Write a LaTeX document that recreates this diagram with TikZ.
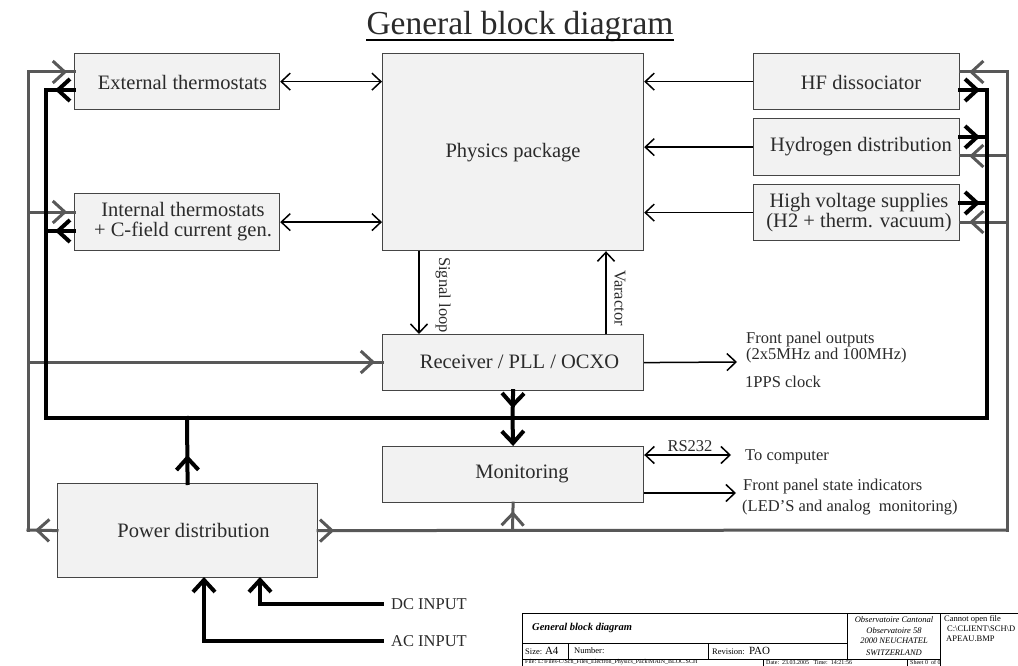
\documentclass[tikz,border=0pt]{standalone}
\usepackage{fontspec}
\setmainfont{Liberation Serif}
\usetikzlibrary{arrows.meta,decorations.markings}
\definecolor{boxfill}{HTML}{F2F2F2}
\definecolor{boxline}{HTML}{454545}
\definecolor{gwire}{HTML}{585858}
\definecolor{txtc}{HTML}{2B2B2B}
\tikzset{
  gbarb/.tip={Straight Barb[length=12pt,width=22pt]},
  bbarb/.tip={Straight Barb[length=12pt,width=22pt]},
  tbarb/.tip={Straight Barb[length=9pt,width=17pt]},
  blockbox/.style={draw=boxline,line width=1.2pt,fill=boxfill,inner sep=0pt,anchor=north west},
  blocktext/.style={inner sep=0pt,text=txtc,font=\fontsize{20.5}{20}\selectfont,align=center},
  sidetext/.style={inner sep=0pt,text=txtc,font=\fontsize{16.5}{18}\selectfont},
  wthin/.style={line width=1.5pt,black},
  wgray/.style={line width=3pt,gwire,line cap=rect},
  wblack/.style={line width=4pt,black,line cap=rect},
  tipat/.style 2 args={postaction={decorate,decoration={markings,mark=at position #1 with {\arrow{#2}}}}},
  tbline/.style={line width=0.9pt,black},
  tbtext/.style={inner sep=0pt,font=\fontsize{8.5}{9}\selectfont},
  tbsmall/.style={inner sep=0pt,anchor=west,font=\fontsize{6}{6}\selectfont}
}
\begin{document}
\begin{tikzpicture}[x=1pt,y=-1pt]
\fill[white] (0,0) rectangle (1018,666);
\useasboundingbox (0,0) rectangle (1018,666);

% title
\node[inner sep=0pt,anchor=base,font=\fontsize{33.5}{38}\selectfont,text=txtc] (title) at (520,35) {General block diagram};
\draw[line width=1.8pt] ([yshift=-5pt]title.base west) -- ([yshift=-5pt]title.base east);

% boxes
\node[blockbox,minimum width=205pt,minimum height=56pt] (ext) at (74,53) {};
\node[blockbox,minimum width=205pt,minimum height=57pt] (int) at (74,193) {};
\node[blockbox,minimum width=261pt,minimum height=197pt] (phys) at (382,53) {};
\node[blockbox,minimum width=206pt,minimum height=56pt] (hf) at (753,53) {};
\node[blockbox,minimum width=206pt,minimum height=57pt] (hyd) at (753,118) {};
\node[blockbox,minimum width=206pt,minimum height=56pt] (hv) at (753,184) {};
\node[blockbox,minimum width=261pt,minimum height=56pt] (rcv) at (382,334) {};
\node[blockbox,minimum width=261pt,minimum height=56pt] (mon) at (382,446) {};
\node[blockbox,minimum width=260pt,minimum height=94pt] (pd) at (57,483) {};

% box texts
\node[blocktext] (extT) at (182.5,82) {External thermostats};
\node[blocktext] (intT) at (183,222) {Internal thermostats\\+ C-field current gen.};
\node[blocktext] (physT) at (513,153) {Physics package};
\node[blocktext] (hfT) at (861,82) {HF dissociator};
\node[blocktext] (hydT) at (861,147) {Hydrogen distribution};
\node[blocktext] (hvT) at (859,213) {High voltage supplies\\(H2 + therm. vacuum)};
\node[blocktext] (rcvT) at (519.5,362) {Receiver / PLL / OCXO};
\node[blocktext] (monT) at (522,474) {Monitoring};
\node[blocktext] (pdT) at (193.5,530) {Power distribution};

% coordinates of the wire networks
\coordinate (gL1) at (28,72);
\coordinate (gL2) at (28,212);
\coordinate (gL3) at (28,362);
\coordinate (gL4) at (28,530);
\coordinate (gR1) at (1007,72);
\coordinate (gR2) at (1007,156);
\coordinate (gR3) at (1007,222);
\coordinate (gR4) at (1007,530);
\coordinate (gM) at (512.5,530);
\coordinate (bL1) at (46,90);
\coordinate (bL2) at (46,231);
\coordinate (bLB) at (46,418);
\coordinate (bRB) at (987,418);
\coordinate (bR1) at (987,90);
\coordinate (bR2) at (987,137);
\coordinate (bR3) at (987,203);
\coordinate (bPD) at (187,418);
\coordinate (bRc) at (512.5,418);

% gray network
\draw[wgray] (gL1) -- (gL4);
\draw[wgray] (gR1) -- (gR4);
\draw[wgray,tipat={-7pt}{gbarb}] (gL1) -- (gL1 -| ext.west);
\draw[wgray,tipat={-7pt}{gbarb}] (gL2) -- (gL2 -| int.west);
\draw[wgray,tipat={-7pt}{gbarb}] (gL3) -- (gL3 -| rcv.west);
\draw[wgray,tipat={-7pt}{gbarb}] (pd.west) -- (gL4);
\draw[wgray,tipat={16pt}{gbarb}] (pd.east) -- (gR4);
\draw[wgray,tipat={-9pt}{gbarb}] (gR1) -- (gR1 -| hf.east);
\draw[wgray,tipat={-9pt}{gbarb}] (gR2) -- (gR2 -| hyd.east);
\draw[wgray,tipat={-9pt}{gbarb}] (gR3) -- (gR3 -| hv.east);
\draw[wgray,tipat={-8pt}{gbarb}] (gM) -- (mon.south);

% black network
\draw[wblack] (bL1) -- (bLB) -- (bRB) -- (bR1);
\draw[wblack,tipat={-9pt}{bbarb}] (bL1 -| ext.west) -- (bL1);
\draw[wblack,tipat={-9pt}{bbarb}] (bL2 -| int.west) -- (bL2);
\draw[wblack,tipat={-7pt}{bbarb}] (bR1 -| hf.east) -- (bR1);
\draw[wblack,tipat={-7pt}{bbarb}] (bR2 -| hyd.east) -- (bR2);
\draw[wblack,tipat={-7pt}{bbarb}] (bR3 -| hv.east) -- (bR3);
\draw[wblack,tipat={28pt}{bbarb}] (pd.north) -- (bPD);
\draw[wblack,tipat={17pt}{bbarb}] (rcv.south) -- (bRc);
\draw[wblack,-{bbarb},line cap=butt] (bRc) -- (mon.north);

% inputs
\node[sidetext,anchor=west] (dcL) at (391,604) {DC INPUT};
\node[sidetext,anchor=west] (acL) at (391,641) {AC INPUT};
\coordinate (dcUp) at (260,577);
\coordinate (acUp) at (204,577);
\draw[wblack,-{bbarb}] ([xshift=-9pt]dcL.west) -| (dcUp);
\draw[wblack,-{bbarb}] ([xshift=-9pt]acL.west) -| (acUp);

% thin connectors
\draw[wthin,{tbarb}-{tbarb}] (ext.east) -- (ext.east -| phys.west);
\draw[wthin,{tbarb}-{tbarb}] (int.east) -- (int.east -| phys.west);
\draw[wthin,-{tbarb}] (hf.west) -- (hf.west -| phys.east);
\draw[wthin,-{tbarb}] (hyd.west) -- (hyd.west -| phys.east);
\draw[wthin,-{tbarb}] (hv.west) -- (hv.west -| phys.east);
\coordinate (slX) at (419,0);
\coordinate (vaX) at (606,0);
\draw[wthin,-{tbarb}] (phys.south -| slX) -- (rcv.north -| slX);
\draw[wthin,-{tbarb}] (rcv.north -| vaX) -- (phys.south -| vaX);
\node[sidetext,rotate=-90] (slT) at (443,295) {Signal loop};
\node[sidetext,rotate=-90] (vaT) at (620,298) {Varactor};

% receiver outputs
\coordinate (fpoE) at (737,362);
\draw[wthin,-{tbarb}] (rcv.east) -- (fpoE);
\node[sidetext,anchor=west] (fpo1) at (746,340) {Front panel outputs};
\node[sidetext,anchor=west] (fpo2) at (746,356) {(2x5MHz and 100MHz)};
\node[sidetext,anchor=west] (pps) at (745,382) {1PPS clock};

% monitoring outputs
\coordinate (rsE) at (731,455);
\coordinate (fpsE) at (736,493);
\draw[wthin,{tbarb}-{tbarb}] (rsE -| mon.east) -- (rsE);
\draw[wthin,-{tbarb}] (fpsE -| mon.east) -- (fpsE);
\node[sidetext] (rsT) at (690,446) {RS232};
\node[sidetext,anchor=west] (tocT) at (745,457) {To computer};
\node[sidetext,anchor=west] (fps1) at (743,487) {Front panel state indicators};
\node[sidetext,anchor=west] (fps2) at (742,508) {(LED'S and analog\ \ monitoring)};

% title block
\draw[tbline] (522,666) -- (522,613) -- (1018,613);
\draw[tbline] (522,643) -- (847,643);
\draw[tbline] (847,613) -- (847,659);
\draw[tbline] (522,659) -- (940,659);
\draw[tbline] (940,613) -- (940,666);
\draw[tbline] (568,643) -- (568,659);
\draw[tbline] (708,643) -- (708,659);
\draw[tbline] (763,659) -- (763,666);
\draw[tbline] (907,659) -- (907,666);
\node[tbtext,anchor=west,font=\bfseries\itshape\fontsize{10.5}{11}\selectfont] (tbT) at (532,628) {General block diagram};
\node[tbtext,anchor=west] (tbS) at (525,651) {Size: {\fontsize{11}{11}\selectfont A4}};
\node[tbtext,anchor=west] (tbN) at (574,651) {Number:};
\node[tbtext,anchor=west] (tbR) at (712,651) {Revision:\ \ {\fontsize{11}{11}\selectfont PAO}};
\node[tbtext,font=\itshape\fontsize{8.5}{9}\selectfont] (ob1) at (894,620) {Observatoire Cantonal};
\node[tbtext,font=\itshape\fontsize{8.5}{9}\selectfont] (ob2) at (894,631) {Observatoire 58};
\node[tbtext,font=\itshape\fontsize{8.5}{9}\selectfont] (ob3) at (894,641) {2000 NEUCHATEL};
\node[tbtext,font=\itshape\fontsize{8.5}{9}\selectfont] (ob4) at (894,653) {SWITZERLAND};
\node[tbtext,anchor=west] (co1) at (944,619) {Cannot open file};
\node[tbtext,anchor=west] (co2) at (947,629) {C:\textbackslash CLIENT\textbackslash SCH\textbackslash D};
\node[tbtext,anchor=west] (co3) at (946,639) {APEAU.BMP};
\node[tbsmall] (fl) at (525,662.5) {File: L:\textbackslash Files-C\textbackslash Sch\_Files\_Electron\_Physics\_Pack\textbackslash MAIN\_BLOC.SCH};
\node[tbsmall] (dt) at (766,662.5) {Date:\ \ 23.03.2005\ \ \ Time:\ \ 14:21:56};
\node[tbsmall] (sh) at (910,662.5) {Sheet 0\ \ of 0};
\end{tikzpicture}
\end{document}
